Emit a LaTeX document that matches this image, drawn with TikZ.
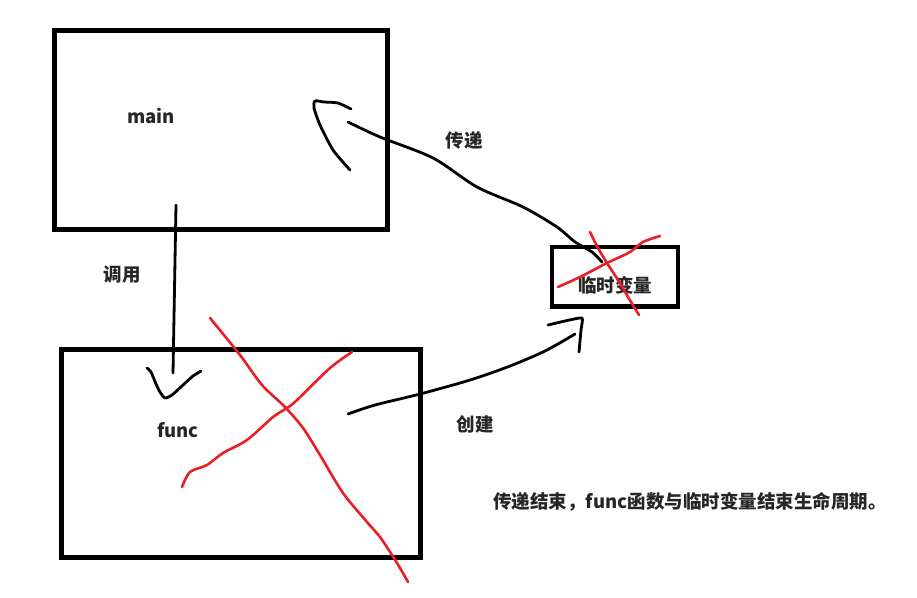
\documentclass[tikz,border=0pt]{standalone}
\usepackage{fontspec}
\newfontfamily\cjk{Noto Sans CJK SC}
\definecolor{penred}{RGB}{235,30,36}
\begin{document}
\begin{tikzpicture}[x=1pt,y=-1pt,
  box/.style={draw=black,line width=5pt,inner sep=0pt,rectangle},
  lbl/.style={font=\cjk\bfseries\fontsize{18.5}{20}\selectfont,inner sep=0pt,text=black!85},
  pen/.style={draw=black,line width=2.8pt,line cap=round,line join=round},
  redpen/.style={draw=penred,line width=2.6pt,line cap=round,line join=round}]
\useasboundingbox (0,0) rectangle (917,597);
% boxes
\node[box,minimum width=332.5pt,minimum height=199.5pt] (main) at (220.75,129.75) {};
\node[box,minimum width=358.5pt,minimum height=208pt] (func) at (240.75,453.5) {};
\node[box,line width=4.6pt,minimum width=126pt,minimum height=59.5pt] (temp) at (615,276.75) {};
% labels
\node[lbl] (tmain) at (151,116) {main};
\node[lbl] (tfunc) at (178,430) {func};
\node[lbl] (ttemp) at (615,285) {临时变量};
\node[lbl] (tcall) at (122,275) {调用};
\node[lbl] (tpass) at (464,140) {传递};
\node[lbl] (tmake) at (475,424) {创建};
\node[lbl] (tend) at (690,502) {传递结束，func函数与临时变量结束生命周期。};
% call stroke (main -> func)
\coordinate (c1) at (176,205);
\coordinate (c2) at (173,373);
\draw[pen] (c1) -- (c2);
\draw[pen] plot[smooth,tension=0.4] coordinates {(147,368) (151,372) (156,384) (160,392) (165,398) (172,395) (183,385) (193,376) (201,371)};
% create stroke (func -> temp)
\draw[pen] plot[smooth,tension=0.5] coordinates {(348,414) (375,405) (420,394) (470,380) (510,366) (545,351) (575,334)};
\draw[pen] plot[smooth,tension=0.3] coordinates {(548,325) (565,321) (582,318) (581,330) (579,352)};
% pass stroke (temp -> main)
\draw[pen] plot[smooth,tension=0.5] coordinates {(602,262) (592,252) (575,242) (557,227) (523,207) (477,187) (433,158) (380,137) (348,122)};
\draw[pen] plot[smooth,tension=0.4] coordinates {(351,109) (338,103) (324,102) (315,101) (314,108) (320,125) (333,150) (350,170)};
% red crosses
\draw[redpen] plot[smooth,tension=0.5] coordinates {(210,318) (240,355) (262,385) (285,407) (303,428) (320,455) (343,493) (367,522) (380,537) (392,555) (400,568) (408,582)};
\draw[redpen] plot[smooth,tension=0.5] coordinates {(352,352) (330,368) (297,400) (287,408) (273,417) (247,440) (223,453) (207,465) (190,472) (182,487)};
\draw[redpen] plot[smooth,tension=0.5] coordinates {(590,232) (598,248) (607,263) (618,280) (628,297) (639,315)};
\draw[redpen] plot[smooth,tension=0.5] coordinates {(558,287) (580,277) (607,263) (630,252) (643,242) (660,236)};
\end{tikzpicture}
\end{document}
